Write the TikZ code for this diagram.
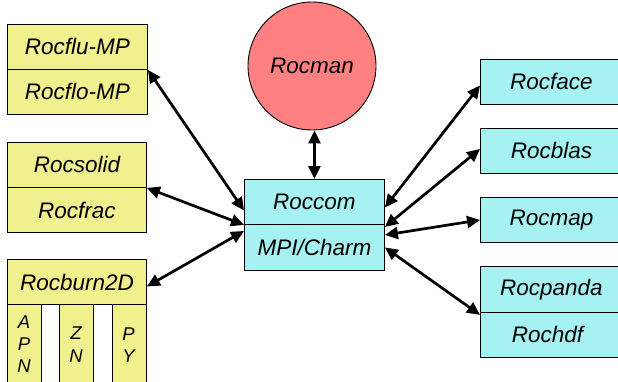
\documentclass[tikz,border=0pt]{standalone}
\usepackage{fontspec}
\setmainfont{Liberation Sans}
\usetikzlibrary{arrows.meta,calc}
\definecolor{modyellow}{RGB}{240,240,142}
\definecolor{modcyan}{RGB}{166,242,242}
\definecolor{modred}{RGB}{255,128,128}
\begin{document}
\begin{tikzpicture}[x=1bp,y=-1bp,
  lbl/.style={font=\fontsize{22.5bp}{27bp}\selectfont\itshape},
  small/.style={font=\fontsize{18.5bp}{22bp}\selectfont\itshape, align=center, inner sep=0pt},
  ybox/.style={draw=black, line width=0.9bp, fill=modyellow, anchor=north west, inner sep=0pt, lbl},
  cbox/.style={draw=black, line width=0.9bp, fill=modcyan, anchor=north west, inner sep=0pt, lbl},
  link/.style={line width=2.7bp, {Triangle[length=13bp,width=12bp]}-{Triangle[length=13bp,width=12bp]}}]
\useasboundingbox (0,0) rectangle (618,381);

% left column: physics modules
\node[ybox, minimum width=140bp, minimum height=45bp] (flu) at (7,24) {Rocflu-MP};
\node[ybox, minimum width=140bp, minimum height=45bp] (flo) at (7,69) {Rocflo-MP};
\node[ybox, minimum width=139bp, minimum height=45bp] (solid) at (7,142) {Rocsolid};
\node[ybox, minimum width=139bp, minimum height=45bp] (frac) at (7,187) {Rocfrac};
\node[ybox, minimum width=139bp, minimum height=45bp] (burn) at (7,259) {Rocburn2D};
\node[ybox, minimum width=34bp, minimum height=86bp] (apn) at (7,304) {};
\node[ybox, minimum width=34bp, minimum height=86bp] (zn) at (59,304) {};
\node[ybox, minimum width=34bp, minimum height=86bp] (py) at (112,304) {};
\node[small] (apnA) at (24,322) {A};
\node[small] (apnP) at (24,344) {P};
\node[small] (apnN) at (24,366) {N};
\node[small] (znZ) at (76,333) {Z};
\node[small] (znN) at (76,356) {N};
\node[small] (pyP) at (128.5,334) {P};
\node[small] (pyY) at (128.5,356) {Y};

% centre: orchestration and framework
\node[draw=black, line width=0.9bp, fill=modred, circle, minimum size=128bp, inner sep=0pt, lbl] (rocman) at (312,66) {Rocman};
\node[cbox, minimum width=140bp, minimum height=45bp] (roccom) at (244,179) {Roccom};
\node[cbox, minimum width=140bp, minimum height=46bp] (mpi) at (244,224) {MPI/Charm};

% right column: service modules
\node[cbox, minimum width=142bp, minimum height=45bp] (rocface) at (480,59) {Rocface};
\node[cbox, minimum width=142bp, minimum height=45bp] (rocblas) at (480,128) {Rocblas};
\node[cbox, minimum width=142bp, minimum height=45bp] (rocmap) at (480,197) {Rocmap};
\node[cbox, minimum width=142bp, minimum height=46bp] (rocpanda) at (480,266) {Rocpanda};
\node[cbox, minimum width=142bp, minimum height=45bp] (rochdf) at (480,312) {\hspace*{-8bp}Rochdf};

% connectors
\draw[link] (roccom.north |- rocman.south) -- (roccom.north);
\draw[link] (flu.south east) -- ([yshift=-8.5bp]roccom.west);
\draw[link] (solid.south east) -- (roccom.south west);
\draw[link] ([yshift=-4.5bp]burn.east) -- ([yshift=-7bp]mpi.north west);
\draw[link] ([yshift=-5.5bp]roccom.east) -- ([yshift=-3.5bp]rocface.west);
\draw[link] ([yshift=-3bp]mpi.north east) -- ([yshift=2bp]rocblas.west);
\draw[link] ([yshift=-11bp]mpi.north east) -- (rocmap.west);
\draw[link] (mpi.east) -- ([yshift=-2bp]rocpanda.south west);
\end{tikzpicture}
\end{document}
